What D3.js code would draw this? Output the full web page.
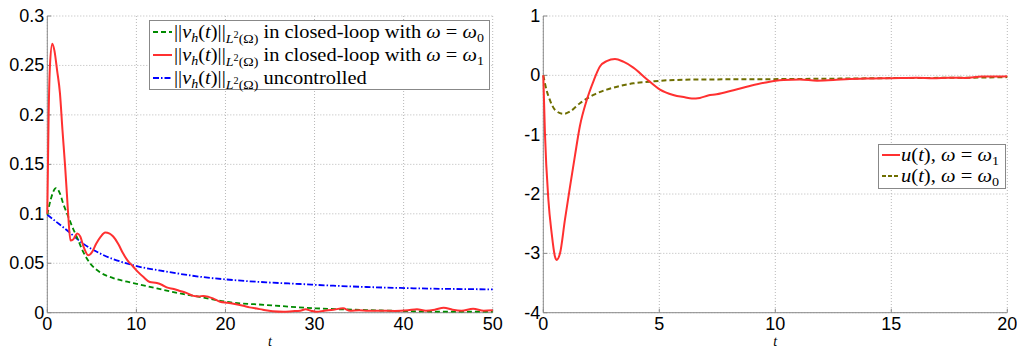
<!DOCTYPE html>
<html><head><meta charset="utf-8">
<script src="https://cdn.jsdelivr.net/npm/d3@7"></script>
<style>body{margin:0;background:#fff;} svg{display:block;}</style>
</head><body>
<script>
// ---- Left panel data: ||v_h(t)|| ----
const tRed = [0,0.15,0.3,0.56,0.8,1.1,1.42,1.7,2.0,2.2,2.36,2.6,2.9,3.37,3.7,4.1,4.6,5.0,5.5,6.0,6.5,7.0,7.4,8.0,8.5,9.0,9.65,10.2,10.8,11.5,12.3,12.9,13.4,14.2,14.9,15.6,16.4,17.0,17.5,18.1,18.6,19.4,20.2,20.9,22.0,22.7,23.5,24.2,25.3,26.5,27.5,28.4,29.0,29.6,30.2,31.1,32.1,33.2,34.0,35.0,36.0,37.5,39.0,40.5,41.5,42.5,43.5,44.5,45.5,46.5,47.8,49.0,50];
const vRed = [0.10,0.20,0.25,0.272,0.265,0.245,0.222,0.185,0.148,0.12,0.097,0.073,0.074,0.080,0.077,0.066,0.058,0.061,0.070,0.077,0.081,0.080,0.077,0.069,0.060,0.053,0.0465,0.041,0.036,0.031,0.030,0.028,0.0256,0.024,0.022,0.020,0.017,0.0165,0.017,0.016,0.0145,0.011,0.010,0.009,0.007,0.0054,0.0042,0.003,0.0015,0.001,0.0015,0.002,0.0034,0.002,0.001,0.002,0.003,0.0044,0.002,0.0025,0.002,0.002,0.0018,0.0025,0.0035,0.002,0.003,0.005,0.003,0.002,0.004,0.002,0.0025];
const tGreen = [0,0.4,0.97,1.4,1.8,2.36,2.8,3.3,4.0,4.8,5.9,7.4,9.65,12.3,14.9,17.1,20.1,24.6,30.2,35.8,43.3,50];
const vGreen = [0.099,0.115,0.126,0.121,0.11,0.097,0.087,0.077,0.062,0.05,0.041,0.035,0.030,0.0246,0.0195,0.016,0.011,0.0078,0.0044,0.0027,0.0012,0.001];
const tBlue = [0,2.17,4.0,5.9,9.65,13.4,17.1,20.9,24.6,28.4,32.1,35.8,39.6,43.3,50];
const vBlue = [0.099,0.0836,0.070,0.060,0.048,0.0415,0.0364,0.033,0.0307,0.029,0.0273,0.026,0.025,0.0243,0.0236];
const leftXTicks = [0,10,20,30,40,50];
const leftYTicks = [0,0.05,0.1,0.15,0.2,0.25,0.3];
const leftYTickLabels = ["0","0.05","0.1","0.15","0.2","0.25","0.3"];

// ---- Right panel data: u(t) ----
const tU1 = [0,0.07,0.22,0.36,0.5,0.57,0.72,0.93,1.15,1.37,1.58,1.87,2.16,2.44,2.73,3.09,3.45,3.88,4.45,5.03,5.6,6.1,6.4,6.75,7.1,7.47,8.2,8.9,9.6,10.35,11.06,11.8,12.5,13.2,13.9,14.6,15.4,16.1,16.8,17.5,18.2,18.9,19.5,20];
const uU1 = [0,-0.97,-2.1,-2.66,-3.05,-3.11,-3.0,-2.44,-1.88,-1.34,-0.85,-0.42,-0.1,0.15,0.24,0.275,0.23,0.13,-0.06,-0.24,-0.33,-0.37,-0.39,-0.38,-0.34,-0.32,-0.25,-0.18,-0.12,-0.08,-0.07,-0.09,-0.08,-0.06,-0.055,-0.05,-0.045,-0.04,-0.05,-0.04,-0.045,-0.02,-0.02,-0.015];
const tU0 = [0,0.14,0.29,0.5,0.86,1.15,1.58,2.16,2.73,3.3,3.88,4.6,5.3,6.75,9.6,12.5,15.4,18.2,20];
const uU0 = [0,-0.25,-0.42,-0.58,-0.65,-0.61,-0.47,-0.33,-0.24,-0.18,-0.135,-0.107,-0.084,-0.07,-0.065,-0.056,-0.045,-0.04,-0.03];
const rightXTicks = [0,5,10,15,20];
const rightYTicks = [-4,-3,-2,-1,0,1];

const W = 1017, H = 347;
const svg = d3.select("body").append("svg").attr("width", W).attr("height", H);

const tickFont = "'Liberation Sans', Arial, sans-serif";
const mathFont = "'Liberation Serif', 'DejaVu Serif', serif";

function panel(x0, x1, y0, y1, xDom, yDom, xTicks, yTicks, yLabels) {
  const x = d3.scaleLinear().domain(xDom).range([x0, x1]);
  const y = d3.scaleLinear().domain(yDom).range([y1, y0]);
  const g = svg.append("g");
  g.selectAll(".gx").data(xTicks).join("line")
    .attr("x1", d => x(d)).attr("x2", d => x(d)).attr("y1", y0).attr("y2", y1)
    .attr("stroke", "#b8b8b8").attr("stroke-width", 1).attr("stroke-dasharray", "1,2");
  g.selectAll(".gy").data(yTicks).join("line")
    .attr("x1", x0).attr("x2", x1).attr("y1", d => y(d)).attr("y2", d => y(d))
    .attr("stroke", "#b8b8b8").attr("stroke-width", 1).attr("stroke-dasharray", "1,2");
  g.append("line").attr("x1", x0).attr("x2", x0).attr("y1", y0).attr("y2", y1).attr("stroke", "#8a8a8a");
  g.append("line").attr("x1", x0).attr("x2", x1).attr("y1", y1).attr("y2", y1).attr("stroke", "#8a8a8a");
  g.selectAll(".tx").data(xTicks).join("line")
    .attr("x1", d => x(d)).attr("x2", d => x(d)).attr("y1", y1).attr("y2", y1 - 4).attr("stroke", "#8a8a8a");
  g.selectAll(".ty").data(yTicks).join("line")
    .attr("x1", x0).attr("x2", x0 + 4).attr("y1", d => y(d)).attr("y2", d => y(d)).attr("stroke", "#8a8a8a");
  g.selectAll(".lx").data(xTicks).join("text")
    .attr("x", d => x(d)).attr("y", y1 + 17).attr("text-anchor", "middle")
    .attr("font-family", tickFont).attr("font-size", 18).attr("fill", "#000").text(d => d);
  g.selectAll(".ly").data(yTicks).join("text")
    .attr("x", x0 - 3).attr("y", d => y(d) + 6).attr("text-anchor", "end")
    .attr("font-family", tickFont).attr("font-size", 18).attr("fill", "#000")
    .text((d, i) => yLabels ? yLabels[i] : d);
  g.append("text").attr("x", (x0 + x1) / 2).attr("y", 345.5).attr("text-anchor", "middle")
    .attr("font-family", mathFont).attr("font-style", "italic").attr("font-size", 14).text("t");
  return {x, y, g};
}

function drawLine(p, xs, ys, color, width, dash) {
  const pts = xs.map((t, i) => [t, ys[i]]);
  const line = d3.line().x(d => p.x(d[0])).y(d => p.y(d[1])).curve(d3.curveMonotoneX);
  p.g.append("path").attr("d", line(pts)).attr("fill", "none")
    .attr("stroke", color).attr("stroke-width", width)
    .attr("stroke-dasharray", dash || null).attr("stroke-linejoin", "round");
}

const red = "#ff3030", green = "#008a00", blue = "#0000ff", olive = "#6e6e00";

const L = panel(47.3, 492.7, 16, 312.7, [0, 50], [0, 0.3], leftXTicks, leftYTicks, leftYTickLabels);
drawLine(L, tBlue, vBlue, blue, 1.8, "6,2,1.5,2");
drawLine(L, tGreen, vGreen, green, 1.8, "5,3");
drawLine(L, tRed, vRed, red, 2);

const R = panel(543.3, 1007.3, 16, 312.7, [0, 20], [-4, 1], rightXTicks, rightYTicks, null);
drawLine(R, tU0, uU0, olive, 2, "5,3");
drawLine(R, tU1, uU1, red, 2);

function stretch(t, x, sx) {
  t.attr("transform", `translate(${x},0) scale(${sx},1) translate(${-x},0)`);
}

function normText(sel, x, y, suffix) {
  const t = sel.append("text").attr("x", x).attr("y", y).attr("font-family", mathFont).attr("font-size", 19).attr("fill", "#000");
  t.append("tspan").text("||");
  t.append("tspan").attr("font-style", "italic").text("v");
  t.append("tspan").attr("font-style", "italic").attr("font-size", 13).attr("dy", 4).text("h");
  t.append("tspan").attr("dy", -4).text("(");
  t.append("tspan").attr("font-style", "italic").text("t");
  t.append("tspan").text(")||");
  t.append("tspan").attr("font-style", "italic").attr("font-size", 13).attr("dy", 5).text("L");
  t.append("tspan").attr("font-size", 9.5).attr("dy", -5).text("2");
  t.append("tspan").attr("font-size", 13).attr("dy", 5).text("(Ω)");
  t.append("tspan").attr("dy", -5).text(" ");
  suffix(t);
  return t;
}

// left legend
const lg = svg.append("g");
lg.append("rect").attr("x", 149.5).attr("y", 20.5).attr("width", 340).attr("height", 69)
  .attr("fill", "#fff").attr("stroke", "#888").attr("stroke-width", 1);
const legL = [
  {color: green, dash: "5,3", w: 1.8, sfx: t => { t.append("tspan").text("in closed-loop with "); t.append("tspan").attr("font-style","italic").text("ω"); t.append("tspan").text(" = "); t.append("tspan").attr("font-style","italic").text("ω"); t.append("tspan").attr("font-size",13).attr("dy",4).text("0"); }},
  {color: red, dash: null, w: 2, sfx: t => { t.append("tspan").text("in closed-loop with "); t.append("tspan").attr("font-style","italic").text("ω"); t.append("tspan").text(" = "); t.append("tspan").attr("font-style","italic").text("ω"); t.append("tspan").attr("font-size",13).attr("dy",4).text("1"); }},
  {color: blue, dash: "6,2,1.5,2", w: 1.8, sfx: t => { t.append("tspan").text("uncontrolled"); }}
];
const lTexts = [];
legL.forEach((d, i) => {
  const yy = 32 + i * 23;
  lg.append("line").attr("x1", 153).attr("x2", 172).attr("y1", yy).attr("y2", yy)
    .attr("stroke", d.color).attr("stroke-width", d.w).attr("stroke-dasharray", d.dash);
  lTexts.push(normText(lg, 174, yy + 6, d.sfx));
});
const lw = lTexts[0].node().getBBox().width;
const lsx = (484 - 174) / lw;
lTexts.forEach(t => stretch(t, 174, lsx));

// right legend
const rg = svg.append("g");
rg.append("rect").attr("x", 878.5).attr("y", 144.5).attr("width", 127).attr("height", 44)
  .attr("fill", "#fff").attr("stroke", "#888").attr("stroke-width", 1);
const legR = [
  {color: red, dash: null, sub: "1"},
  {color: olive, dash: "4,2", sub: "0"}
];
const rTexts = [];
legR.forEach((d, i) => {
  const yy = 155 + i * 21;
  rg.append("line").attr("x1", 882).attr("x2", 900).attr("y1", yy).attr("y2", yy)
    .attr("stroke", d.color).attr("stroke-width", 2).attr("stroke-dasharray", d.dash);
  const t = rg.append("text").attr("x", 901).attr("y", yy + 6).attr("font-family", mathFont).attr("font-size", 19);
  t.append("tspan").attr("font-style", "italic").text("u");
  t.append("tspan").text("(");
  t.append("tspan").attr("font-style", "italic").text("t");
  t.append("tspan").text("), ");
  t.append("tspan").attr("font-style", "italic").text("ω");
  t.append("tspan").text(" = ");
  t.append("tspan").attr("font-style", "italic").text("ω");
  t.append("tspan").attr("font-size", 13).attr("dy", 4).text(d.sub);
  rTexts.push(t);
});
const rw = rTexts[0].node().getBBox().width;
const rsx = (999 - 901) / rw;
rTexts.forEach(t => stretch(t, 901, rsx));
</script>
</body></html>
